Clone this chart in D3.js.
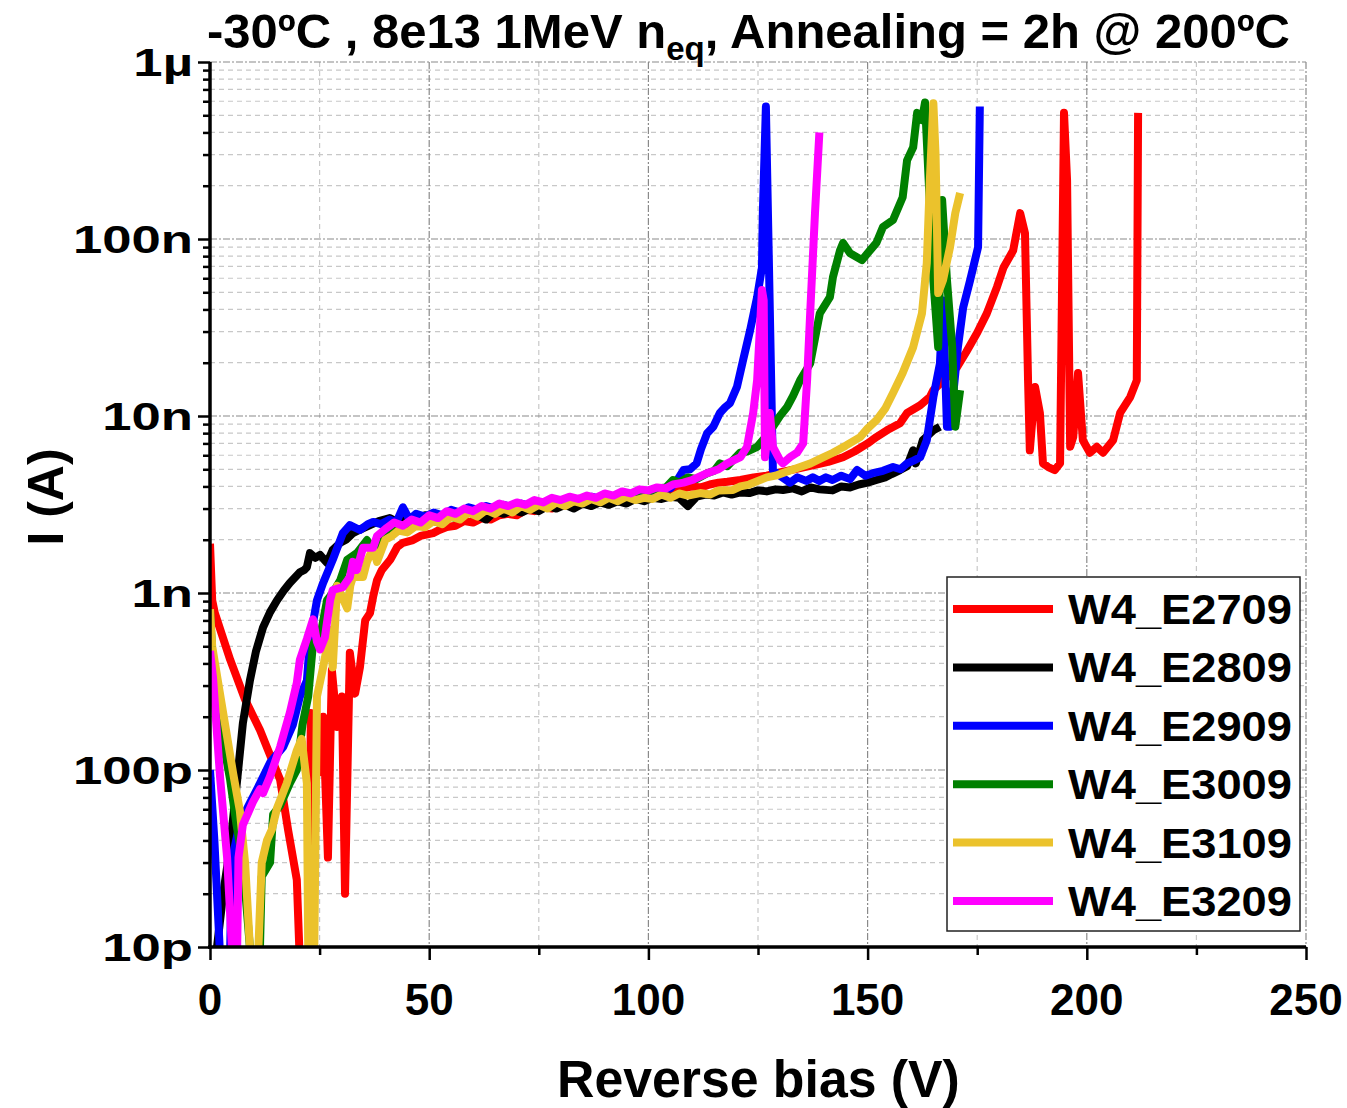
<!DOCTYPE html>
<html><head><meta charset="utf-8">
<script src="https://cdn.jsdelivr.net/npm/d3@7"></script>
<style>body{margin:0;background:#fff}svg{display:block}text{font-family:"Liberation Sans",Arial,sans-serif;font-weight:bold}</style>
</head><body>
<svg id="c" width="1347" height="1108"></svg>
<script>
// Data: [reverse bias (V), current (nA)]
const E2709 = [[0,1.9],[0.5,0.91],[1.1,0.77],[4.6,0.42],[8,0.25],[11.4,0.168],[13,0.134],[16,0.088],[17.8,0.046],[19.8,0.024],[20.5,0.008],[21.5,0.005],[22.5,0.006],[23,0.21],[24.6,0.096],[25.8,0.2],[26.9,0.032],[27.8,0.367],[29,0.175],[30.1,0.26],[30.8,0.02],[31.9,0.46],[33.1,0.27],[34.2,0.38],[35.4,0.70],[36.5,0.77],[37.2,0.95],[38.1,1.18],[39.2,1.35],[41.1,1.54],[42.7,1.82],[44,1.92],[46.3,1.99],[48,2.1],[50.9,2.18],[52,2.25],[54,2.36],[56,2.4],[58,2.55],[60,2.5],[62,2.65],[64,2.6],[66,2.75],[68,2.8],[70,2.75],[72,2.95],[74,2.9],[76,3.05],[78,3.0],[80,3.15],[82,3.1],[84,3.25],[86,3.2],[88,3.3],[90,3.4],[92,3.35],[94,3.5],[96,3.45],[98,3.6],[100,3.7],[102,3.65],[104,3.8],[106,3.75],[108,3.9],[110,4.0],[112,3.95],[114,4.1],[116,4.2],[118,4.25],[121,4.35],[124,4.5],[127,4.6],[130,4.8],[134.6,5.08],[138,5.3],[141,5.5],[144.4,5.85],[147,6.3],[150,7.0],[152,7.6],[154.4,8.3],[157.4,9.1],[159,10.4],[162,11.5],[164.2,12.8],[165,14],[168,16.5],[170.4,18.9],[172.5,23],[175,29.5],[177.2,38],[179.5,53.5],[181,69],[183.2,86],[184.8,140],[185.9,108],[186.6,15.9],[187,6.4],[188.2,14.6],[189.3,10.4],[190,5.4],[191.2,5.15],[192.7,4.95],[193.9,5.4],[194.8,516],[195.5,215],[196.2,6.7],[196.9,7.6],[198,17.5],[199.1,7.3],[200.7,6.2],[202.3,6.7],[203.7,6.2],[206,7.3],[207.6,10.4],[209.9,12.8],[211.4,15.9],[211.7,516]];
const E2809 = [[0,0.003],[1.6,0.01],[3,0.02],[4.6,0.037],[6.2,0.088],[7.5,0.184],[9.1,0.32],[10.5,0.47],[12.1,0.64],[13.7,0.78],[15.3,0.91],[16.8,1.03],[18.2,1.14],[20.5,1.31],[21.5,1.35],[22.1,1.40],[22.8,1.68],[24,1.58],[25.1,1.64],[26.7,1.48],[28,1.75],[29.7,1.92],[31,2.0],[32.6,2.18],[34.5,2.3],[36.5,2.42],[38.5,2.55],[41,2.65],[43,2.5],[45,2.7],[47,2.6],[49,2.75],[51,2.7],[53,2.5],[55,2.8],[57,2.7],[59,2.85],[61,2.75],[63,2.6],[65,2.9],[67,2.8],[69,2.95],[71,2.85],[73,3.0],[75,2.9],[77,3.1],[79,3.0],[81,3.15],[83,3.0],[85,3.2],[87,3.1],[89,3.25],[91,3.15],[93,3.3],[95,3.2],[97,3.4],[99,3.3],[101,3.45],[103,3.4],[105,3.5],[107,3.45],[109,3.1],[111,3.5],[113,3.6],[115,3.55],[117,3.7],[119,3.6],[121,3.7],[123,3.67],[125,3.8],[127,3.75],[129,3.85],[130.7,3.82],[133,3.9],[135,3.75],[137,3.95],[139,3.85],[142,3.8],[144,4.0],[146,3.95],[148,4.1],[150,4.2],[152,4.35],[154,4.5],[155.5,4.7],[157.4,4.95],[159,5.2],[160.4,6.4],[161,5.4],[162.6,7.3],[165,8.3],[166.5,8.7]];
const E2909 = [[0,0.1],[1,0.04],[2.2,0.01],[3,0.004],[4.3,0.004],[5.0,0.031],[6.8,0.05],[9.1,0.065],[11.4,0.084],[13.7,0.11],[16.7,0.135],[18.9,0.18],[20.5,0.26],[22.1,0.32],[22.8,0.54],[24.4,0.91],[25.8,1.14],[28,1.54],[30.3,2.18],[31.9,2.42],[34.2,2.27],[36,2.45],[37.2,2.52],[39,2.45],[41,2.6],[42.5,2.5],[44,3.05],[45.5,2.6],[47,2.8],[49,2.7],[51,2.85],[53,2.75],[55,2.95],[57,2.85],[59,3.05],[61,2.95],[63,3.1],[65,3.0],[67,3.15],[69,3.05],[71,3.2],[73,3.1],[75,3.25],[77,3.15],[79,3.35],[81,3.25],[83,3.4],[85,3.3],[87,3.5],[89,3.4],[91,3.55],[93,3.5],[95,3.65],[97,3.6],[99,3.75],[101,3.7],[103,3.85],[105,3.9],[106.5,4.3],[108,4.95],[109.5,5.0],[111,5.4],[112,6.5],[113.4,8.0],[114.8,8.7],[116.3,10.4],[117.5,11.2],[118.6,11.8],[120.2,14.6],[121.6,20.7],[123.2,30.5],[124.8,47],[125.9,69],[126.1,140],[126.8,560],[128.4,4.95],[130,4.6],[132.3,4.2],[134,4.5],[136,4.3],[137.5,4.5],[139,4.3],[140.5,4.5],[142,4.35],[144,4.6],[146,4.4],[147.6,4.95],[149.5,4.6],[151.2,4.75],[153.5,4.9],[155.8,5.15],[157.5,5.0],[159,5.4],[160.5,5.6],[162,5.85],[163.5,7.3],[165,12.8],[166.5,19.8],[167.2,45],[168.1,8.7],[168.8,8.7],[170.6,24.5],[171.8,41],[173.4,58.6],[175.2,90],[175.6,560]];
const E3009 = [[0,0.81],[0.8,0.33],[2.5,0.17],[4.6,0.088],[6,0.05],[7.5,0.03],[9.1,0.01],[10.5,0.005],[11.4,0.01],[11.8,0.025],[13.7,0.03],[14.4,0.056],[16,0.063],[18.2,0.084],[19.8,0.1],[21.1,0.18],[22.4,0.26],[23.5,0.52],[25.1,0.56],[26.7,0.91],[28,1.0],[29.7,1.18],[31.3,1.54],[33.5,1.68],[35.8,1.99],[37.2,1.75],[38.8,2.07],[40.5,2.2],[42,2.35],[44,2.3],[46,2.5],[48,2.45],[50,2.6],[52,2.5],[54,2.75],[56,2.65],[58,2.9],[60,2.8],[62,3.0],[64,2.9],[66,3.05],[68,2.95],[70,3.1],[72,3.05],[74,3.2],[76,3.1],[78,3.3],[80,3.2],[82,3.4],[84,3.3],[86,3.45],[88,3.35],[90,3.6],[92,3.5],[94,3.7],[96,3.6],[98,3.8],[100,3.75],[102,3.9],[104,3.95],[105.6,4.35],[107,4.2],[109,4.5],[111,4.4],[113.4,4.75],[115,4.9],[116.3,5.4],[118,5.2],[120.9,6.2],[122.5,6.3],[124.8,6.7],[126.5,7.5],[128.4,8.7],[130,10],[131.6,11.2],[133,13],[134.6,15.9],[136.9,19.8],[138.5,31.8],[139.1,38],[141.4,47],[142.1,61],[143.7,86],[144.4,95],[146,83],[148.7,76],[150.5,86],[152,95],[153.5,117],[155.8,128],[158,172],[159,278],[160.4,330],[161.3,516],[162.4,470],[163.1,590],[165,58.6],[166.1,24.5],[167,166],[168.1,58.6],[169.3,24.5],[170,8.7],[171.1,14]];
const E3109 = [[0,0.81],[0.5,0.5],[3,0.21],[5.3,0.095],[6.8,0.059],[8,0.03],[9.1,0.01],[10,0.005],[10.7,0.006],[11.8,0.03],[13,0.04],[14.1,0.046],[15.3,0.061],[17.5,0.084],[19.8,0.129],[20.9,0.15],[22.1,0.084],[22.4,0.01],[23,0.004],[23.7,0.006],[24.4,0.26],[25.8,0.38],[27.4,0.62],[28,0.38],[29,1.1],[31.3,0.82],[32,1.1],[32.6,1.23],[34.9,1.23],[35.8,1.5],[37.2,1.8],[38.1,1.5],[40,2.0],[41.5,2.1],[43,2.25],[45,2.2],[47,2.4],[49,2.35],[51,2.55],[53,2.45],[55,2.7],[57,2.6],[59,2.85],[61,2.7],[63,2.95],[65,2.8],[67,3.0],[69,2.85],[71,3.1],[73,2.95],[75,3.15],[77,3.0],[79,3.25],[81,3.1],[83,3.3],[85,3.2],[87,3.4],[89,3.25],[91,3.45],[93,3.3],[95,3.5],[97,3.35],[99,3.45],[101,3.4],[103,3.6],[105,3.45],[107,3.65],[109,3.55],[111.8,3.67],[114,3.6],[116,3.8],[119.3,3.82],[121,4.0],[123,4.1],[125,4.3],[127,4.5],[129,4.6],[131,4.8],[134.6,5.15],[137,5.4],[139,5.7],[142.1,6.2],[145,6.8],[148.3,7.6],[150,8.5],[152.1,9.5],[154,11],[155.8,13.5],[158,17.5],[160.4,24.5],[162.4,38],[163.5,73],[164.2,215],[165,585],[165.5,300],[166.1,49.5],[167.2,58.6],[168.8,90],[170,140],[171.1,182]];
const E3209 = [[0,0.47],[0.7,0.33],[2.3,0.091],[3.9,0.032],[5,0.01],[5.7,0.005],[6.2,0.01],[6.5,0.032],[7.5,0.049],[9.8,0.066],[11.4,0.078],[12.1,0.074],[13.7,0.092],[16,0.135],[18.2,0.21],[19.8,0.31],[20.5,0.42],[22.1,0.55],[23.5,0.71],[24.4,0.53],[25.1,0.48],[26.2,0.56],[27.4,0.91],[28,1.04],[30.3,1.08],[31.9,1.23],[32.6,1.5],[33.5,1.35],[34.9,1.8],[37.2,1.8],[38.1,2.1],[40,2.3],[42,2.5],[44,2.4],[46,2.6],[48,2.5],[50,2.75],[52,2.65],[54,2.9],[56,2.8],[58,3.0],[60,2.9],[62,3.1],[64,3.0],[66,3.2],[68,3.1],[70,3.25],[72,3.15],[74,3.35],[76,3.25],[78,3.45],[80,3.35],[82,3.5],[84,3.4],[86,3.55],[88,3.45],[90,3.65],[92,3.55],[94,3.75],[96,3.65],[98,3.85],[100,3.8],[102,3.95],[104,3.9],[105.6,4.1],[108,4.2],[110,4.35],[113.4,4.75],[116,5.0],[118,5.4],[121,5.85],[122.5,6.7],[123.9,10.4],[124.8,15.9],[125.9,51.5],[126.3,45],[126.6,5.85],[127.7,10.4],[128.4,6.7],[130,5.63],[130.7,5.4],[132.3,5.85],[133.9,6.2],[135.3,7.0],[136.2,15.9],[136.9,38],[138,140],[139,400]];

const seriesNames = ["W4_E2709","W4_E2809","W4_E2909","W4_E3009","W4_E3109","W4_E3209"];
const seriesData = [E2709, E2809, E2909, E3009, E3109, E3209];
const seriesColors = ["#ff0000","#000000","#0000ff","#008000","#ebc22c","#ff00ff"];
const xTicks = [0,50,100,150,200,250];
const xMinorTicks = [25,75,125,175,225];
const yTicks = [0.01,0.1,1,10,100,1000];
const yTickLabels = ["10p","100p","1n","10n","100n","1µ"];

const svg = d3.select("#c");
const L=210, R=1306, T=62, B=947;
const x = d3.scaleLinear().domain([0,250]).range([L,R]);
const y = d3.scaleLog().domain([0.01,1000]).range([B,T]);

const yMinor = [];
yTicks.slice(0,-1).forEach(d=>{for(let k=2;k<=9;k++) yMinor.push(d*k);});

// grid
const g = svg.append("g");
g.selectAll(".hmin").data(yMinor).join("line")
  .attr("x1",L).attr("x2",R).attr("y1",d=>y(d)).attr("y2",d=>y(d))
  .attr("stroke","#c8c8c8").attr("stroke-width",1.2).attr("stroke-dasharray","5,4");
g.selectAll(".vmin").data(xMinorTicks).join("line")
  .attr("x1",d=>x(d)).attr("x2",d=>x(d)).attr("y1",T).attr("y2",B)
  .attr("stroke","#c8c8c8").attr("stroke-width",1.2).attr("stroke-dasharray","5,4");
g.selectAll(".hmaj").data(yTicks.slice(1)).join("line")
  .attr("x1",L).attr("x2",R).attr("y1",d=>y(d)).attr("y2",d=>y(d))
  .attr("stroke","#8a8a8a").attr("stroke-width",1.2).attr("stroke-dasharray","7,2,2,2");
g.selectAll(".vmaj").data(xTicks.slice(1)).join("line")
  .attr("x1",d=>x(d)).attr("x2",d=>x(d)).attr("y1",T).attr("y2",B)
  .attr("stroke","#8a8a8a").attr("stroke-width",1.2).attr("stroke-dasharray","7,2,2,2");

// clip
svg.append("clipPath").attr("id","clip").append("rect")
  .attr("x",L).attr("y",T-4).attr("width",R-L).attr("height",B-T+4);

const line = d3.line().x(d=>x(d[0])).y(d=>y(d[1]));
const lines = svg.append("g").attr("clip-path","url(#clip)");
seriesData.forEach((s,i)=>{
  lines.append("path").datum(s).attr("d",line)
    .attr("fill","none").attr("stroke",seriesColors[i]).attr("stroke-width",8)
    .attr("stroke-linejoin","round").attr("stroke-linecap","butt");
});

// axes
const xAxis = d3.axisBottom(x).tickValues(xTicks).tickSize(13).tickFormat("");
const xAxisMinor = d3.axisBottom(x).tickValues(xMinorTicks).tickSize(8).tickFormat("");
const ax = svg.append("g").attr("transform",`translate(0,${B})`).call(xAxis);
svg.append("g").attr("transform",`translate(0,${B})`).call(xAxisMinor).select(".domain").remove();
ax.select(".domain").attr("stroke-width",3.5).attr("d",`M${L-2},0H${R}`);
svg.selectAll(".tick line").attr("stroke-width",2.5);

const yAxis = d3.axisLeft(y).tickValues(yTicks).tickSize(12).tickFormat("");
const yAxisMinor = d3.axisLeft(y).tickValues(yMinor).tickSize(7).tickFormat("");
const ay = svg.append("g").attr("transform",`translate(${L},0)`).call(yAxis);
svg.append("g").attr("transform",`translate(${L},0)`).call(yAxisMinor).select(".domain").remove();
ay.select(".domain").attr("stroke-width",3.5).attr("d",`M0,${T}V${B+2}`);
svg.selectAll(".tick line").attr("stroke-width",2.5);

// x tick labels
svg.append("g").selectAll("text").data(xTicks).join("text")
  .attr("x",d=>x(d)).attr("y",1015).attr("text-anchor","middle")
  .attr("font-size",44).text(d=>d);

// y tick labels
svg.append("g").selectAll("g").data(yTicks).join("g")
  .attr("transform",d=>`translate(193,${y(d)+14}) scale(1.35,1)`)
  .append("text").attr("text-anchor","end").attr("font-size",39)
  .text((d,i)=>yTickLabels[i]);

function fitWidth(sel, x0, y0, w){
  const len = sel.node().getComputedTextLength();
  sel.attr("transform",`translate(${x0},${y0}) scale(${w/len},1)`);
}

// title
const title = svg.append("text").attr("font-size",49).attr("x",0).attr("y",0);
title.append("tspan").text("-30ºC , 8e13 1MeV n");
title.append("tspan").attr("font-size",33).attr("dy",12).text("eq");
title.append("tspan").attr("dy",-12).text(", Annealing = 2h @ 200ºC");
fitWidth(title,207,48,1083);

// axis titles
const xt = svg.append("text").attr("font-size",52).attr("x",0).attr("y",0).text("Reverse bias (V)");
fitWidth(xt,557,1097,403);
const yt = svg.append("text").attr("font-size",50).attr("text-anchor","middle").text("I (A)");
yt.attr("transform","translate(63,497) rotate(-90)");

// legend
const lg = svg.append("g");
lg.append("rect").attr("x",947).attr("y",577).attr("width",353).attr("height",354)
  .attr("fill","#fff").attr("stroke","#222").attr("stroke-width",1.5);
seriesNames.forEach((n,i)=>{
  const cy = 609 + i*58.4;
  lg.append("line").attr("x1",953).attr("x2",1053).attr("y1",cy).attr("y2",cy)
    .attr("stroke",seriesColors[i]).attr("stroke-width",8);
  const t = lg.append("text").attr("font-size",42).text(n);
  fitWidth(t,1068,cy+15,224);
});
</script>
</body></html>
